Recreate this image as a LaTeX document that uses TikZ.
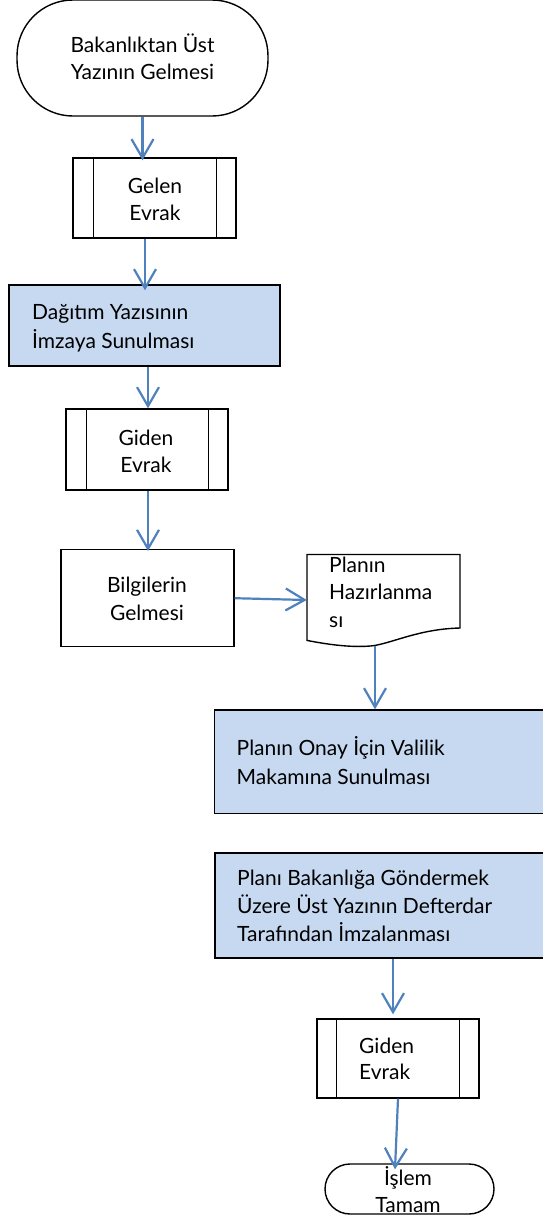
\documentclass[tikz,border=0pt]{standalone}
\usepackage{fontspec}
\setmainfont{Lato}
\usetikzlibrary{arrows.meta}
\definecolor{arrowblue}{HTML}{4F81BD}
\definecolor{fillblue}{HTML}{C6D9F1}
\newcommand\mlines[3]{{\fontsize{21}{#1}\selectfont\def\arraystretch{1}\begin{tabular}[t]{@{}#2@{}}#3\end{tabular}}}
\tikzset{
  shapebox/.style={draw=black, line width=1.4pt, inner sep=0pt, fill=white},
  bluebox/.style={shapebox, fill=fillblue},
  term/.style={shapebox},
  txt/.style={inner sep=0pt, text=black},
  arr/.style={draw=arrowblue, line width=2.2pt, -{Straight Barb[length=19pt,width=22pt,line width=2.2pt]}},
}
\begin{document}
\begin{tikzpicture}[x=1pt,y=-1pt]
\useasboundingbox (0,0) rectangle (543,1218);
\fill[white] (0,0) rectangle (543,1218);
% shapes
\node[term, rounded corners=56pt, minimum width=251pt, minimum height=116pt] (s) at (142.5,58) {};
\node[shapebox, minimum width=163pt, minimum height=80pt] (g1) at (154.5,198) {};
\draw[line width=1.4pt] ([xshift=21pt]g1.north west) -- ([xshift=21pt]g1.south west)
  ([xshift=-20pt]g1.north east) -- ([xshift=-20pt]g1.south east);
\node[bluebox, minimum width=271pt, minimum height=81pt] (p1) at (144.5,325.5) {};
\node[shapebox, minimum width=162pt, minimum height=81pt] (g2) at (147,449.5) {};
\draw[line width=1.4pt] ([xshift=21pt]g2.north west) -- ([xshift=21pt]g2.south west)
  ([xshift=-20pt]g2.north east) -- ([xshift=-20pt]g2.south east);
\node[shapebox, minimum width=173pt, minimum height=97pt] (b) at (147.5,598.2) {};
\node[inner sep=0pt, minimum width=153pt, minimum height=91pt] (doc) at (383.5,600) {};
\draw[line width=1.4pt, fill=white] (307,554.5) -- (460,554.5) -- (460,628)
  .. controls (420,629) and (395,642) .. (374,645.6)
  .. controls (355,648) and (330,645) .. (307,640.4) -- cycle;
\node[bluebox, minimum width=345.3pt, minimum height=103.6pt] (p2) at (387.35,761.8) {};
\node[bluebox, minimum width=345pt, minimum height=105pt] (p3) at (387.5,905.5) {};
\node[shapebox, minimum width=162pt, minimum height=79pt] (g3) at (398,1058.5) {};
\draw[line width=1.4pt] ([xshift=20pt]g3.north west) -- ([xshift=20pt]g3.south west)
  ([xshift=-20pt]g3.north east) -- ([xshift=-20pt]g3.south east);
\node[term, rounded corners=25pt, minimum width=169pt, minimum height=50pt] (e) at (409.5,1189) {};
% texts
\node[txt, anchor=base] (ts) at (142.5,52) {\mlines{27pt}{c}{Bakanlıktan Üst\\Yazının Gelmesi}};
\node[txt, anchor=base] (tg1) at (155,193) {\mlines{27pt}{c}{Gelen\\Evrak}};
\node[txt, anchor=base west] (tp1) at (32,319) {\mlines{29pt}{l}{Dağıtım Yazısının\\İmzaya Sunulması}};
\node[txt, anchor=base] (tg2) at (146,445) {\mlines{27pt}{c}{Giden\\Evrak}};
\node[txt, anchor=base] (tb) at (147,592.6) {\mlines{27.4pt}{c}{Bilgilerin\\Gelmesi}};
\node[txt, anchor=base west] (tdoc) at (329,572) {\mlines{27.5pt}{l}{Planın\\Hazırlanma\\sı}};
\node[txt, anchor=base west] (tp2) at (236.5,755) {\mlines{29pt}{l}{Planın Onay İçin Valilik\\Makamına Sunulması}};
\node[txt, anchor=base west] (tp3) at (237,885.7) {\mlines{27.7pt}{l}{Planı Bakanlığa Göndermek\\Üzere Üst Yazının Defterdar\\Tarafından İmzalanması}};
\node[txt, anchor=base west] (tg3) at (359,1053) {\mlines{26pt}{l}{Giden\\Evrak}};
\node[txt, anchor=base] (te) at (408,1185) {\mlines{27pt}{c}{İşlem\\Tamam}};
% connectors
\draw[arr] (s.south) -- ([yshift=-3pt]s.south |- g1.north);
\draw[arr] ([xshift=-9.5pt]g1.south) -- ([xshift=-9.5pt,yshift=-6pt]g1.south |- p1.north);
\draw[arr] ([xshift=3.5pt]p1.south) -- ([xshift=3.5pt]p1.south |- g2.north);
\draw[arr] ([xshift=1pt]g2.south) -- ([xshift=1pt,yshift=-2pt]g2.south |- b.north);
\draw[arr] (b.east) -- (doc.west);
\draw[arr] ([xshift=-8.5pt]doc.south) -- ([xshift=-8.5pt]doc.south |- p2.north);
\draw[arr] ([xshift=5.5pt]p3.south) -- ([xshift=5.5pt,yshift=4pt]p3.south |- g3.north);
\draw[arr] (g3.south) -- ([xshift=-3pt,yshift=-6pt]g3.south |- e.north);
\end{tikzpicture}
\end{document}
